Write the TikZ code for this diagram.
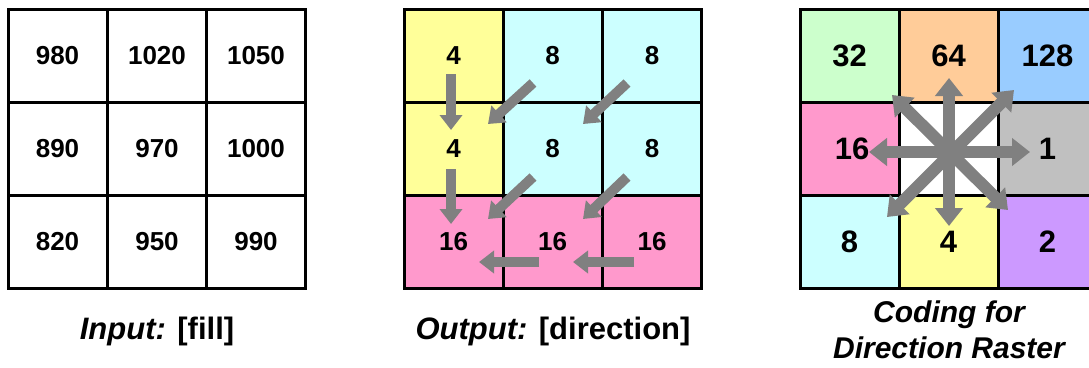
\documentclass[tikz,border=0pt]{standalone}
\usepackage{fontspec}
\setmainfont{Liberation Sans}
\usetikzlibrary{arrows.meta}
\definecolor{cyel}{HTML}{FFFF99}
\definecolor{ccyan}{HTML}{CCFFFF}
\definecolor{cpink}{HTML}{FF99CC}
\definecolor{cgreen}{HTML}{CCFFCC}
\definecolor{corange}{HTML}{FFCC99}
\definecolor{cblue}{HTML}{99CCFF}
\definecolor{cgray}{HTML}{C0C0C0}
\definecolor{cpurple}{HTML}{CC99FF}
\definecolor{arrgray}{HTML}{808080}
\begin{document}
\begin{tikzpicture}[x=1pt,y=-1pt,
  cell/.style={draw=black, line width=3pt, minimum width=99pt, minimum height=93pt,
    inner sep=0pt, outer sep=0pt, font=\fontsize{26}{30}\selectfont\bfseries},
  bigcell/.style={cell, font=\fontsize{31}{36}\selectfont\bfseries},
  flow/.style={draw=arrgray, line width=10pt, -{Triangle[width=22pt,length=15pt]}},
  star/.style={draw=arrgray, line width=12pt, {Triangle[width=27pt,length=18pt]}-{Triangle[width=27pt,length=18pt]}},
  lbl/.style={font=\fontsize{31}{36}\selectfont\bfseries, align=center, inner sep=0pt}]
\clip (0,0) rectangle (1089,367);
\fill[white] (0,0) rectangle (1089,367);
% Input grid
\node[cell] (i11) at (57.5,56) {980};
\node[cell] (i12) at (157,56) {1020};
\node[cell] (i13) at (256,56) {1050};
\node[cell] (i21) at (57.5,148.5) {890};
\node[cell] (i22) at (157,148.5) {970};
\node[cell] (i23) at (256,148.5) {1000};
\node[cell] (i31) at (57.5,241.5) {820};
\node[cell] (i32) at (157,241.5) {950};
\node[cell] (i33) at (256,241.5) {990};
% Output grid
\node[cell, fill=cyel] (o11) at (453.5,56) {4};
\node[cell, fill=ccyan] (o12) at (552.5,56) {8};
\node[cell, fill=ccyan] (o13) at (652,56) {8};
\node[cell, fill=cyel] (o21) at (453.5,148.5) {4};
\node[cell, fill=ccyan] (o22) at (552.5,148.5) {8};
\node[cell, fill=ccyan] (o23) at (652,148.5) {8};
\node[cell, fill=cpink] (o31) at (453.5,241.5) {16};
\node[cell, fill=cpink] (o32) at (552.5,241.5) {16};
\node[cell, fill=cpink] (o33) at (652,241.5) {16};
% Output flow arrows
\coordinate (a1s) at (451,74);  \coordinate (a1e) at (451,130);
\coordinate (a2s) at (451,169); \coordinate (a2e) at (451,224);
\coordinate (a3s) at (533,83);  \coordinate (a3e) at (488,124);
\coordinate (a4s) at (627,83);  \coordinate (a4e) at (583,124);
\coordinate (a5s) at (533,177); \coordinate (a5e) at (488,219);
\coordinate (a6s) at (627,177); \coordinate (a6e) at (583,219);
\coordinate (a7s) at (539,262); \coordinate (a7e) at (479,262);
\coordinate (a8s) at (634,262); \coordinate (a8e) at (573,262);
\foreach \k in {1,...,8} {\draw[flow] (a\k s) -- (a\k e);}
% Coding grid
\node[bigcell, fill=cgreen] (c11) at (849.5,56) {32};
\node[bigcell, fill=corange] (c12) at (948.5,56) {64};
\node[bigcell, fill=cblue] (c13) at (1047.5,56) {128};
\node[bigcell, fill=cpink] (c21) at (849.5,148.5) {\hspace*{5pt}16};
\node[bigcell, fill=white] (c22) at (948.5,148.5) {};
\node[bigcell, fill=cgray] (c23) at (1047.5,148.5) {1};
\node[bigcell, fill=ccyan] (c31) at (849.5,241.5) {8};
\node[bigcell, fill=cyel] (c32) at (948.5,241.5) {4};
\node[bigcell, fill=cpurple] (c33) at (1047.5,241.5) {2};
% Star arrows
\coordinate (sW) at (869,152);  \coordinate (sE) at (1030,152);
\coordinate (sN) at (949,78);   \coordinate (sS) at (949,226);
\coordinate (sNW) at (892,95);  \coordinate (sSE) at (1008,210);
\coordinate (sSW) at (887,217); \coordinate (sNE) at (1014,90);
\draw[star] (sW) -- (sE);
\draw[star] (sN) -- (sS);
\draw[star] (sNW) -- (sSE);
\draw[star] (sSW) -- (sNE);
% Labels
\node[lbl] (lin) at (157,331) {\textit{Input:} [fill]};
\node[lbl] (lout) at (553,331) {\textit{Output:} [direction]};
\node[lbl, font=\fontsize{30}{36}\selectfont\bfseries\itshape] (lcode) at (949,330) {Coding for\\Direction Raster};
\end{tikzpicture}
\end{document}
